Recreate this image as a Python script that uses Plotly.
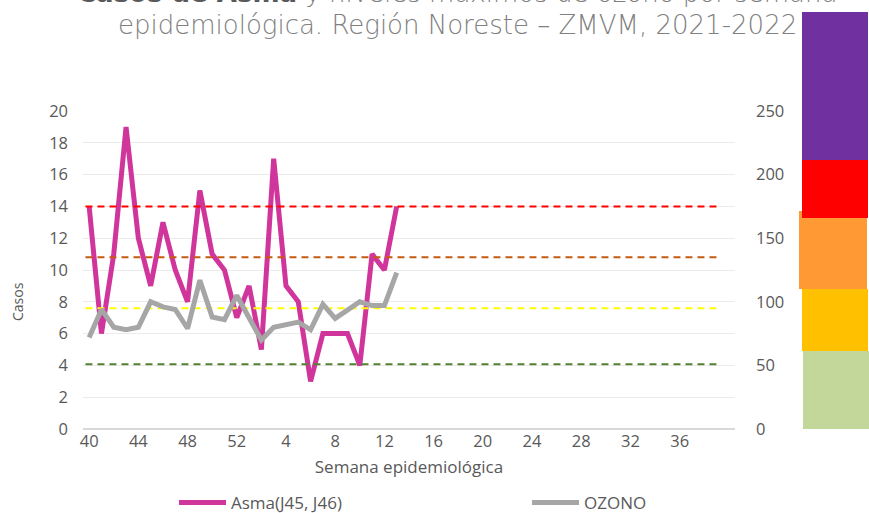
import plotly.graph_objects as go

# ---------------- data ----------------
week_labels = [str(w) for w in list(range(40, 53)) + list(range(1, 41))]
asma_cases = [14, 6, 11, 19, 12, 9, 13, 10, 8, 15, 11, 10, 7, 9, 5, 17, 9, 8, 3, 6, 6, 6, 4, 11, 10, 14]
ozono_max = [72, 94, 80, 78, 80, 100, 96, 94, 79, 117, 88, 86, 105, 88, 70, 80, 82, 84, 78, 98, 87, 93, 100, 97, 97, 123]
ozone_thresholds = [51, 95, 135, 175]
threshold_colors = ["#548235", "#FFFF00", "#C55A11", "#FF0000"]
tick_every = 4

x_idx = list(range(len(week_labels)))

# plot area geometry (px)
W, H = 869, 513
L, R, T, B = 83, 735, 111, 429
pw, ph = R - L, B - T


def px_x(p):
    return (p - L) / pw


def px_y(p):
    return (B - p) / ph


fig = go.Figure()

# threshold dashed lines on ozone axis (drawn as traces so they sit above the gridlines)
x_span = [x_idx[0] - 0.3, x_idx[-1] - 0.6]
for v, c in zip(ozone_thresholds, threshold_colors):
    fig.add_trace(go.Scatter(
        x=x_span, y=[v, v], yaxis="y2", mode="lines", showlegend=False, hoverinfo="skip",
        line=dict(color=c, width=2, dash="7px,5px"),
    ))

fig.add_trace(go.Scatter(
    x=x_idx[:len(ozono_max)], y=ozono_max, name="OZONO", yaxis="y2",
    mode="lines", line=dict(color="#A6A6A6", width=5),
    legend="legend2",
))
fig.add_trace(go.Scatter(
    x=x_idx[:len(asma_cases)], y=asma_cases, name="Asma(J45, J46)", yaxis="y",
    mode="lines", line=dict(color="#D0359C", width=5),
    legend="legend",
))

# colored boxes on the right
boxes = [
    (802, 868, 12, 160, "#7030A0"),
    (799, 867, 211, 289, "#FF9933"),
    (802, 868, 160, 218, "#FF0000"),
    (802, 868, 289, 351, "#FFC000"),
    (803, 869, 351, 429, "#C4D79B"),
]
for x0, x1, y0, y1, col in boxes:
    fig.add_shape(type="rect", xref="paper", yref="paper",
                  x0=px_x(x0), x1=px_x(x1), y0=px_y(y1), y1=px_y(y0),
                  fillcolor=col, line=dict(width=0), layer="above")

title_font = dict(family="DejaVu Sans", size=26, color="#808080", weight=200)
fig.add_annotation(xref="paper", yref="paper", x=px_x(457), y=px_y(-7), xanchor="center", yanchor="middle",
                   text="<b><span style='color:#595959'>Casos de Asma</span></b> y niveles máximos de ozono por semana",
                   showarrow=False, font=title_font)
fig.add_annotation(xref="paper", yref="paper", x=px_x(457), y=px_y(25), xanchor="center", yanchor="middle",
                   text="epidemiológica. Región Noreste – ZMVM, 2021-2022",
                   showarrow=False, font=title_font)
fig.add_annotation(xref="paper", yref="paper", x=px_x(17), y=px_y(302), xanchor="center", yanchor="middle",
                   text="Casos", textangle=-90, showarrow=False,
                   font=dict(family="Open Sans", size=14, color="#595959"))

tick_font = dict(family="Open Sans", size=16.5, color="#595959")
leg_font = dict(family="Open Sans", size=17, color="#595959")

fig.update_layout(
    width=W, height=H,
    margin=dict(l=L, r=W - R, t=T, b=H - B, autoexpand=False),
    paper_bgcolor="white", plot_bgcolor="white",
    xaxis=dict(
        range=[-0.5, len(week_labels) - 0.5],
        tickvals=x_idx[::tick_every][:13], ticktext=week_labels[::tick_every][:13],
        showgrid=False, zeroline=False, showline=False, ticks="", automargin=False,
        tickfont=tick_font,
        title=dict(text="Semana epidemiológica", font=dict(family="Open Sans", size=17, color="#595959"), standoff=10),
    ),
    yaxis=dict(
        range=[0, 20], dtick=2, showgrid=True, gridcolor="#EBEBEB", gridwidth=1,
        zeroline=True, zerolinecolor="#D9D9D9", zerolinewidth=2, automargin=False,
        showline=False, ticks="", tickfont=tick_font, ticklabelstandoff=14,
    ),
    yaxis2=dict(
        range=[0, 250], dtick=50, overlaying="y", side="right", automargin=False,
        showgrid=False, zeroline=False, showline=False, ticks="",
        tickfont=tick_font, ticklabelstandoff=20,
    ),
    legend=dict(orientation="h", xref="container", yref="container", x=174 / W, y=(H - 503) / H,
                xanchor="left", yanchor="middle", itemwidth=47,
                font=leg_font, bgcolor="rgba(0,0,0,0)"),
    legend2=dict(orientation="h", xref="container", yref="container", x=527 / W, y=(H - 503) / H,
                 xanchor="left", yanchor="middle", itemwidth=47,
                 font=leg_font, bgcolor="rgba(0,0,0,0)"),
    showlegend=True,
)

fig.write_html("out.html", config={"displayModeBar": False},
               post_script="document.body.style.margin='0';document.body.style.overflow='hidden';")
